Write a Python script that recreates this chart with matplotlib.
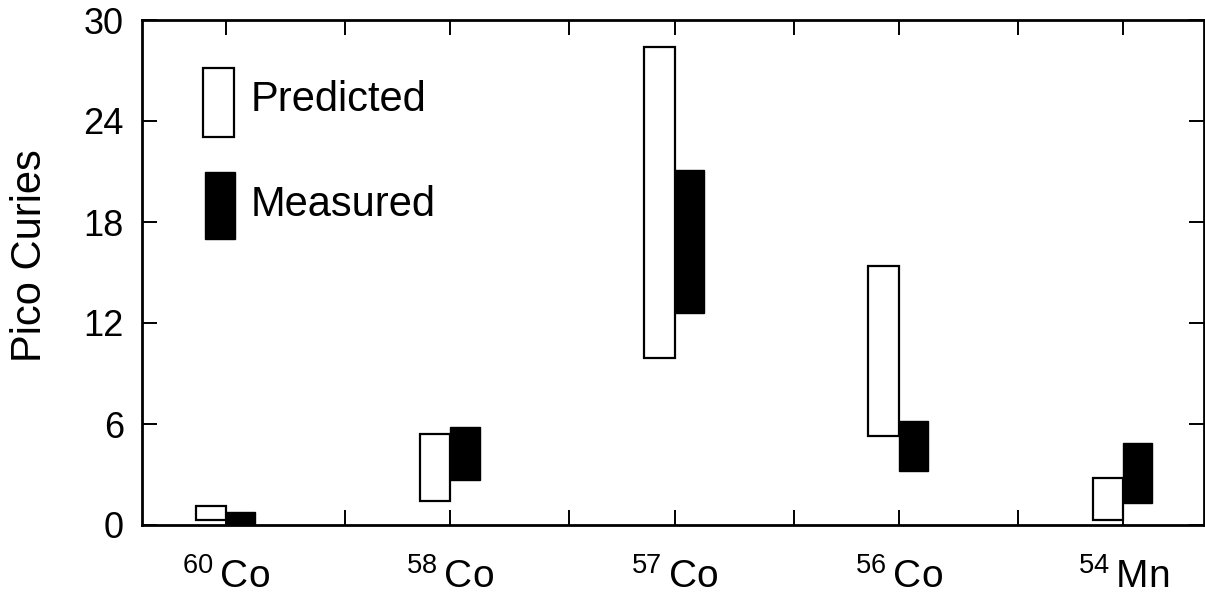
import matplotlib.pyplot as plt
from matplotlib.patches import Rectangle
import numpy as np

plt.rcParams['font.family'] = ['Liberation Sans', 'DejaVu Sans']
plt.rcParams['mathtext.fontset'] = 'custom'
plt.rcParams['mathtext.rm'] = 'Liberation Sans'

# isotopes and ranges (low, high) in pico curies
isotopes = ['60', '58', '57', '56', '54']
elements = ['Co', 'Co', 'Co', 'Co', 'Mn']
pred_low = [0.3, 1.4, 9.9, 5.3, 0.3]
pred_high = [1.1, 5.4, 28.4, 15.4, 2.8]
meas_low = [0.0, 2.7, 12.6, 3.2, 1.3]
meas_high = [0.8, 5.8, 21.1, 6.2, 4.9]

x = np.arange(len(isotopes))
pred_low = np.array(pred_low)
pred_high = np.array(pred_high)
meas_low = np.array(meas_low)
meas_high = np.array(meas_high)

fig = plt.figure(figsize=(12.05, 5.98), dpi=100)
ax = fig.add_axes([142 / 1205, 1 - 525 / 598, 1062 / 1205, 505 / 598])

ax.bar(x, pred_high - pred_low, bottom=pred_low, width=-0.136, align='edge',
       facecolor='white', edgecolor='black', linewidth=1.6)
ax.bar(x, meas_high - meas_low, bottom=meas_low, width=0.13, align='edge',
       facecolor='black', edgecolor='black', linewidth=1.0)

ax.set_xlim(-0.375, 4.36)
ax.set_ylim(0, 30)
ax.set_yticks([0, 6, 12, 18, 24, 30])
ax.set_xticks(x)
ax.set_xticks(x[:-1] + 0.53, minor=True)
ax.set_xticklabels(['$^{%s}\\,\\mathrm{%s}$' % (n, e) for n, e in zip(isotopes, elements)])

ax.tick_params(axis='both', which='both', direction='in', length=11, width=1.4,
               top=True, right=True)
ax.tick_params(axis='y', labelsize=26, pad=13)
ax.tick_params(axis='x', labelsize=28, pad=24)
for s in ax.spines.values():
    s.set_linewidth(2)

fig.text(30 / 1205, 1 - 256 / 598, 'Pico Curies', rotation=90, fontsize=30,
         ha='center', va='center')

# legend
ax.add_patch(Rectangle((0.0574, 0.768), 0.029, 0.137, transform=ax.transAxes,
                       facecolor='white', edgecolor='black', linewidth=1.6))
ax.add_patch(Rectangle((0.0593, 0.566), 0.028, 0.133, transform=ax.transAxes,
                       facecolor='black', edgecolor='black', linewidth=1.0))
ax.text(0.102, 0.842, 'Predicted', transform=ax.transAxes, fontsize=30, va='center')
ax.text(0.102, 0.634, 'Measured', transform=ax.transAxes, fontsize=30, va='center')

fig.savefig('out.png', dpi=100)
